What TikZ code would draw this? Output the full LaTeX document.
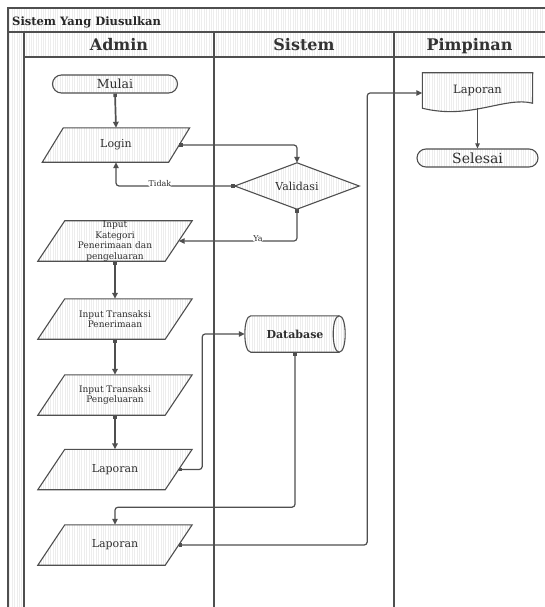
\documentclass[tikz,border=0pt]{standalone}
\usepackage{fontspec}
\setmainfont{DejaVu Serif}
\usetikzlibrary{arrows.meta,patterns.meta,backgrounds,calc}
\definecolor{ln}{HTML}{4F4F4F}
\definecolor{tx}{HTML}{2E2E2E}
\newcommand\fsz[2]{\fontsize{#1}{#2}\selectfont}
\tikzset{
  hatch/.style={pattern={Lines[angle=90,distance=2.4pt,line width=0.35pt]}, pattern color=black!7},
  frame/.style={draw=ln, line width=1.4pt},
  outline/.style={draw=ln, line width=1.1pt, hatch, line join=miter},
  term/.style={outline, rectangle, rounded corners=9pt, minimum height=18pt, inner sep=0pt, text=tx},
  textbox/.style={rectangle, inner sep=0pt, align=center, text=tx},
  para/.style={textbox, minimum width=127pt, minimum height=40pt, font=\fsz{9}{10.5}},
  conn/.style={draw=ln, line width=1.2pt, rounded corners=3pt,
    {Square[length=3.5pt,width=3.5pt]}-{Triangle[length=6pt,width=5.5pt]}},
  flow/.style={conn, line width=1.7pt},
  lbl/.style={fill=white, inner sep=0.6pt, font=\fsz{8}{9}, text=tx},
  hdr/.style={anchor=base, inner sep=0pt, font=\bfseries\fsz{16}{18}, text=black!80},
}
\begin{document}
\begin{tikzpicture}[x=1pt,y=-1pt]
\useasboundingbox (0,0) rectangle (545,607);
% swimlane frame
\path[hatch] (8,8) rectangle (545,32);
\path[hatch] (24,32) rectangle (545,57);
\path[hatch] (8,32) rectangle (24,607);
\draw[frame] (545,8) -- (8,8) -- (8,607);
\draw[frame] (8,32) -- (545,32);
\draw[frame] (24,57) -- (545,57);
\draw[frame] (24,32) -- (24,607);
\draw[frame] (214,32) -- (214,607);
\draw[frame] (394,32) -- (394,607);

\node[anchor=base west, inner sep=0pt, font=\bfseries\fsz{11.5}{13}, text=black!85] (title) at (12,25.5) {Sistem Yang Diusulkan};
\node[hdr] (hadmin) at (119,50.5) {Admin};
\node[hdr] (hsistem) at (304,50.5) {Sistem};
\node[hdr] (hpimpinan) at (469.5,50.5) {Pimpinan};

% flowchart steps
\node[term, minimum width=125pt, font=\fsz{12.5}{14}] (mulai) at (115,84) {Mulai};
\node[para, minimum width=126pt, minimum height=34pt, font=\fsz{11}{12}] (login) at (116,145) {Login};
\node[textbox, minimum width=124pt, minimum height=46pt, font=\fsz{11}{12}] (val) at (297,186) {Validasi};
\node[para] (kat) at (115,241) {Input\\Kategori\\Penerimaan dan\\pengeluaran};
\node[para] (pen) at (115,319) {Input Transaksi\\Penerimaan};
\node[para] (peng) at (115,395) {Input Transaksi\\Pengeluaran};
\node[para, font=\fsz{11}{12}] (lap1) at (115,469.5) {Laporan};
\node[textbox, minimum width=100pt, minimum height=36pt, font=\bfseries\fsz{11}{12}] (db) at (295,334) {Database};
\node[para, font=\fsz{11}{12}] (lap2) at (115,545) {Laporan};
\node[textbox, minimum width=110pt, minimum height=35pt, font=\fsz{11.5}{13}] (doc) at (477.5,90.5) {Laporan};
\node[term, minimum width=121pt, font=\fsz{14}{16}] (sel) at (477.5,158) {Selesai};

% outlines of the non-rectangular shapes
\begin{scope}[on background layer]
  \foreach \n/\s in {login/10.5, kat/13.5, pen/13.5, peng/13.5, lap1/13.5, lap2/13.5}
    \path[outline] ([xshift=\s pt]\n.north west) -- ([xshift=\s pt]\n.north east)
      -- ([xshift=-\s pt]\n.south east) -- ([xshift=-\s pt]\n.south west) -- cycle;
  \path[outline] (val.north) -- (val.east) -- (val.south) -- (val.west) -- cycle;
  \path[outline] ([xshift=6pt]db.north west) -- ([xshift=-6pt]db.north east)
    .. controls ([xshift=2pt]db.north east) and ([xshift=2pt]db.south east) .. ([xshift=-6pt]db.south east)
    -- ([xshift=6pt]db.south west)
    .. controls ([xshift=-2pt]db.south west) and ([xshift=-2pt]db.north west) .. ([xshift=6pt]db.north west)
    -- cycle;
  \draw[draw=ln, line width=1.1pt] ([xshift=-6pt]db.north east)
    .. controls ([xshift=-14pt]db.north east) and ([xshift=-14pt]db.south east) .. ([xshift=-6pt]db.south east);
  \path[outline] (doc.south west) -- (doc.north west) -- (doc.north east)
    -- ($(doc.south)+(55,-5)$)
    .. controls ($(doc.south)+(27.5,-12)$) and ($(doc.south)+(-7.5,12)$) .. (doc.south west) -- cycle;
\end{scope}

% connectors
\draw[flow] (mulai.south) -- (login.north);
\draw[conn] (login.east) -| (val.north);
\draw[conn] (val.west) -| node[lbl, pos=0.315, yshift=2.5pt] (ltidak) {Tidak} (login.south);
\draw[conn] (val.south) |- node[lbl, pos=0.665, yshift=2.5pt] (lya) {Ya} (kat.east);
\draw[flow] (kat.south) -- (pen.north);
\draw[flow] (pen.south) -- (peng.north);
\draw[flow] (peng.south) -- (lap1.north);
\draw[conn] (lap1.east) -- ++(23.5,0) |- (db.west);
\draw[conn] (db.south) -- ++(0,155) -| (lap2.north);
\draw[conn] (lap2.east) -- ++(188.5,0) |- ([yshift=-2.5pt]doc.west);
\draw[draw=ln, line width=0.9pt, -{Triangle[length=5pt,width=4.5pt]}] (doc.south) -- (sel.north);
\end{tikzpicture}
\end{document}
